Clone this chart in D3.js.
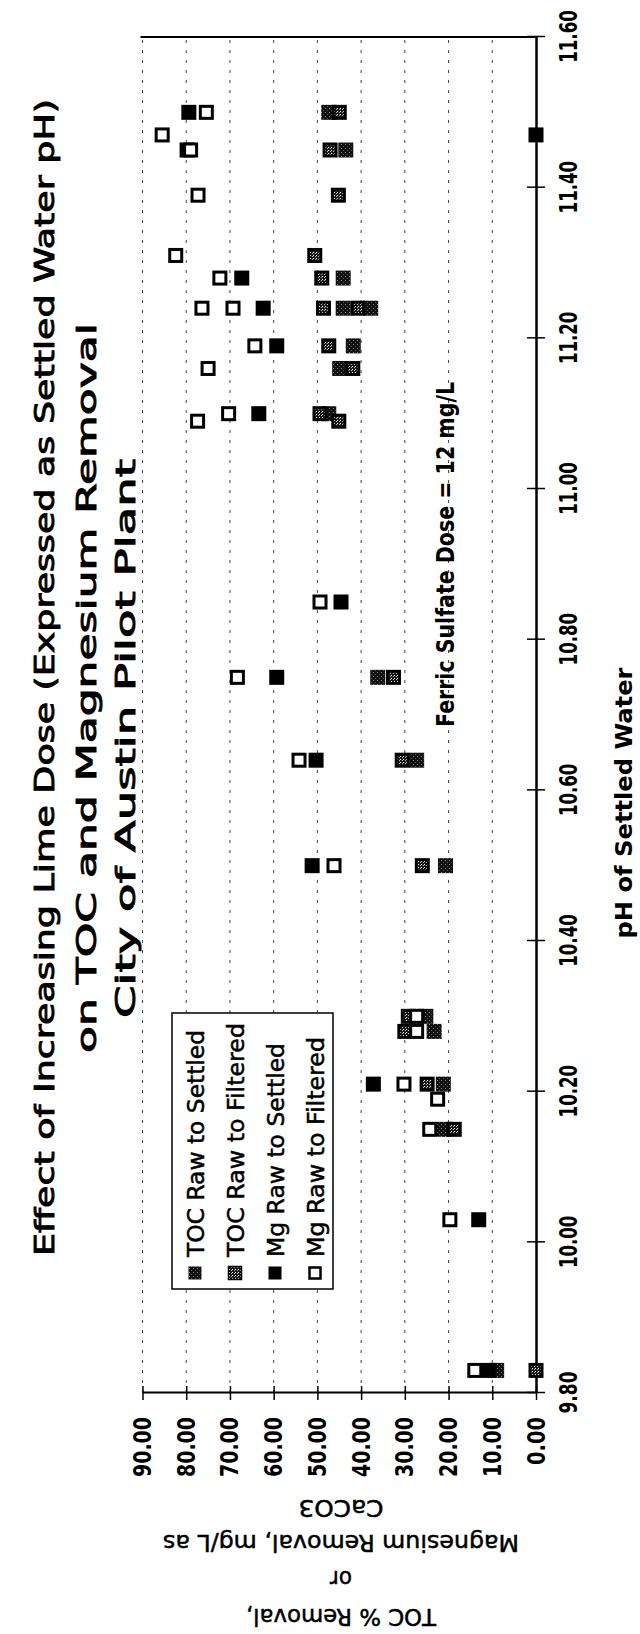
<!DOCTYPE html>
<html>
<head>
<meta charset="utf-8">
<script src="https://cdn.jsdelivr.net/npm/d3@7"></script>
<style>
body { margin: 0; background: #fff; }
text { font-family: "DejaVu Sans", sans-serif; font-weight: bold; fill: #000; }
text.plain { font-weight: normal; stroke: #000; stroke-width: 0.5px; }
</style>
</head>
<body>
<div id="chart-area"></div>
<script>
// DATA
var seriesNames = ["TOC Raw to Settled", "TOC Raw to Filtered", "Mg Raw to Settled", "Mg Raw to Filtered"];

var tocSettledPH = [11.50, 11.45, 11.28, 11.24, 11.24, 11.19, 11.16, 11.10, 10.75, 10.64, 10.50, 10.30, 10.28, 10.21, 10.15, 9.83];
var tocSettled   = [47.4, 43.5, 44.1, 44.1, 37.8, 41.8, 44.9, 47.4, 36.2, 27.3, 20.7, 25.2, 23.3, 21.2, 21.0, 9.0];

var tocFilteredPH = [11.50, 11.45, 11.39, 11.31, 11.28, 11.24, 11.24, 11.19, 11.16, 11.10, 11.09, 10.75, 10.64, 10.50, 10.30, 10.28, 10.21, 10.15, 9.83];
var tocFiltered   = [45.0, 47.1, 45.2, 50.6, 49.0, 48.6, 40.7, 47.4, 41.9, 49.4, 45.1, 32.6, 30.6, 26.0, 29.2, 30.0, 24.9, 18.7, 0.0];

var mgSettledPH = [11.50, 11.47, 11.45, 11.28, 11.24, 11.19, 11.10, 10.85, 10.75, 10.64, 10.50, 10.21, 10.03, 9.83];
var mgSettled   = [79.4, 0.0, 79.8, 67.3, 62.4, 59.3, 63.4, 44.6, 59.3, 50.3, 51.2, 37.2, 13.1, 10.9];

var mgFilteredPH = [11.50, 11.47, 11.45, 11.39, 11.31, 11.28, 11.24, 11.24, 11.19, 11.16, 11.10, 11.09, 10.85, 10.75, 10.64, 10.50, 10.30, 10.28, 10.21, 10.19, 10.15, 10.03, 9.83];
var mgFiltered   = [75.4, 85.5, 79.0, 77.3, 82.4, 72.3, 76.4, 69.3, 64.3, 75.0, 70.3, 77.4, 49.4, 68.3, 54.2, 46.2, 27.3, 27.3, 30.2, 22.5, 24.3, 19.7, 14.0];

var phTicks = [9.8, 10.0, 10.2, 10.4, 10.6, 10.8, 11.0, 11.2, 11.4, 11.6];
var valueTicks = [0, 10, 20, 30, 40, 50, 60, 70, 80, 90];

var titleLines = ["Effect of Increasing Lime Dose (Expressed as Settled Water pH)",
                  "on TOC and Magnesium Removal",
                  "City of Austin Pilot Plant"];
var yTitleLines = ["TOC % Removal,", "or", "Magnesium Removal, mg/L as", "CaCO3"];
var xTitle = "pH of Settled Water";
var note = "Ferric Sulfate Dose = 12 mg/L";

// The whole chart is printed sideways, so draw it normally and turn it.
var W = 1634, H = 640;

var svg = d3.select("#chart-area")
    .append("svg")
    .attr("width", H)
    .attr("height", W);

var defs = svg.append("defs");

var pd = defs.append("pattern").attr("id", "dark")
    .attr("width", 4).attr("height", 4).attr("patternUnits", "userSpaceOnUse");
pd.append("rect").attr("width", 4).attr("height", 4).attr("fill", "#111");
pd.append("rect").attr("x", 1).attr("y", 1).attr("width", 1).attr("height", 1).attr("fill", "#888");
pd.append("rect").attr("x", 3).attr("y", 3).attr("width", 1).attr("height", 1).attr("fill", "#555");

var pl = defs.append("pattern").attr("id", "light")
    .attr("width", 3).attr("height", 3).attr("patternUnits", "userSpaceOnUse");
pl.append("rect").attr("width", 3).attr("height", 3).attr("fill", "#1a1a1a");
pl.append("rect").attr("x", 1).attr("y", 1).attr("width", 1).attr("height", 1).attr("fill", "#fff");
pl.append("rect").attr("x", 0).attr("y", 0).attr("width", 1).attr("height", 1).attr("fill", "#bbb");

var g = svg.append("g")
    .attr("transform", "translate(0," + W + ") rotate(-90)");

// SCALES
var x = d3.scaleLinear().domain([9.8, 11.6]).range([241, 1597]);
var y = d3.scaleLinear().domain([0, 90]).range([536, 142.5]);

// GRID
g.selectAll("line.grid")
    .data(valueTicks.slice(1))
    .enter().append("line")
    .attr("class", "grid")
    .attr("x1", x(9.8)).attr("x2", x(11.6))
    .attr("y1", function (d) { return y(d); })
    .attr("y2", function (d) { return y(d); })
    .attr("stroke", "#444")
    .attr("stroke-width", 1)
    .attr("stroke-dasharray", "3,7");

// frame edge at 11.6
g.append("line")
    .attr("x1", x(11.6)).attr("x2", x(11.6))
    .attr("y1", y(90) - 2).attr("y2", y(0))
    .attr("stroke", "#000").attr("stroke-width", 2);

// X AXIS (pH)
var xAxisGroup = g.append("g")
    .attr("transform", "translate(0," + y(0) + ")")
    .call(d3.axisBottom(x).tickValues(phTicks).tickSizeInner(9).tickSizeOuter(0)
        .tickPadding(14).tickFormat(d3.format(".2f")));
xAxisGroup.select(".domain").attr("stroke-width", 2.5);
xAxisGroup.selectAll(".tick line").attr("y1", -9).attr("stroke-width", 1.5);
xAxisGroup.selectAll(".tick text")
    .attr("font-size", "25px")
    .attr("dy", "0.71em")
    .attr("textLength", function (d) { return d3.format(".2f")(d).length * 10.5; })
    .attr("lengthAdjust", "spacingAndGlyphs");

// Y AXIS (removal)
var yAxisGroup = g.append("g")
    .attr("transform", "translate(" + x(9.8) + ",0)")
    .call(d3.axisLeft(y).tickValues(valueTicks).tickSizeInner(7).tickSizeOuter(0)
        .tickPadding(17).tickFormat(d3.format(".2f")));
yAxisGroup.select(".domain").attr("stroke-width", 2);
yAxisGroup.selectAll(".tick line").attr("x2", 7).attr("x1", -7).attr("stroke-width", 1.5);
yAxisGroup.selectAll(".tick text")
    .attr("font-size", "25px")
    .attr("textLength", function (d) { return d3.format(".2f")(d).length * 12; })
    .attr("lengthAdjust", "spacingAndGlyphs");

// MARKERS
function addSeries(phs, vals, kind) {
    var pts = phs.map(function (p, i) { return { ph: p, v: vals[i] }; });
    var s = 15;
    var sel = g.append("g").selectAll("rect")
        .data(pts).enter().append("rect")
        .attr("x", function (d) { return x(d.ph) - s / 2; })
        .attr("y", function (d) { return y(d.v) - s / 2; })
        .attr("width", s).attr("height", s);
    if (kind === 0) {
        sel.attr("fill", "url(#dark)");
    } else if (kind === 1) {
        sel.attr("x", function (d) { return x(d.ph) - s / 2 + 1.5; })
            .attr("y", function (d) { return y(d.v) - s / 2 + 1.5; })
            .attr("width", s - 3).attr("height", s - 3)
            .attr("fill", "url(#light)").attr("stroke", "#000").attr("stroke-width", 3);
    } else if (kind === 2) {
        sel.attr("fill", "#000");
    } else {
        sel.attr("x", function (d) { return x(d.ph) - s / 2 + 1.5; })
            .attr("y", function (d) { return y(d.v) - s / 2 + 1.5; })
            .attr("width", s - 3).attr("height", s - 3)
            .attr("fill", "#fff").attr("stroke", "#000").attr("stroke-width", 3);
    }
}
addSeries(tocSettledPH, tocSettled, 0);
addSeries(tocFilteredPH, tocFiltered, 1);
addSeries(mgSettledPH, mgSettled, 2);
addSeries(mgFilteredPH, mgFiltered, 3);

// TITLE
var titleStart = [378, 581, 616];
var titleBase = [54, 96, 135];
var titleLen = [1157, 730, 559];
titleLines.forEach(function (t, i) {
    g.append("text")
        .attr("class", "plain")
        .attr("x", titleStart[i]).attr("y", titleBase[i])
        .attr("font-size", "27px")
        .style("stroke-width", "0.9px")
        .attr("textLength", titleLen[i])
        .attr("lengthAdjust", "spacingAndGlyphs")
        .text(t);
});

// Y TITLE
var yTitleBase = [25, 63, 99, 134];
var yTitleLen = [190, 22, 356, 85];
yTitleLines.forEach(function (t, i) {
    g.append("text")
        .attr("class", "plain")
        .attr("transform", "translate(" + yTitleBase[i] + ",341) rotate(-90)")
        .attr("text-anchor", "middle")
        .attr("font-size", "23px")
        .attr("textLength", yTitleLen[i])
        .attr("lengthAdjust", "spacingAndGlyphs")
        .text(t);
});

// X TITLE
g.append("text")
    .attr("x", 831).attr("y", 632)
    .attr("text-anchor", "middle")
    .attr("font-size", "23px")
    .attr("textLength", 271)
    .attr("lengthAdjust", "spacingAndGlyphs")
    .text(xTitle);

// NOTE
g.append("text")
    .attr("x", 907).attr("y", 454)
    .attr("font-size", "25px")
    .attr("textLength", 345)
    .attr("lengthAdjust", "spacingAndGlyphs")
    .text(note);

// LEGEND
var legend = g.append("g");
legend.append("rect")
    .attr("x", 345).attr("y", 172)
    .attr("width", 276).attr("height", 161)
    .attr("fill", "#fff").attr("stroke", "#000").attr("stroke-width", 1.5);

var legendLen = [227, 234, 214, 220];
seriesNames.forEach(function (name, i) {
    var cy = 195 + i * 40;
    var r = legend.append("rect")
        .attr("x", 361 - 6.5).attr("y", cy - 6.5)
        .attr("width", 13).attr("height", 13);
    if (i === 0) r.attr("fill", "url(#dark)");
    if (i === 1) r.attr("fill", "url(#light)").attr("stroke", "#000").attr("stroke-width", 1.5);
    if (i === 2) r.attr("fill", "#000");
    if (i === 3) r.attr("x", 361 - 5.5).attr("y", cy - 5.5).attr("width", 11).attr("height", 11)
        .attr("fill", "#fff").attr("stroke", "#000").attr("stroke-width", 2.5);
    legend.append("text")
        .attr("class", "plain")
        .attr("x", 377).attr("y", cy + 8.5)
        .attr("font-size", "23px")
        .attr("textLength", legendLen[i])
        .attr("lengthAdjust", "spacingAndGlyphs")
        .text(name);
});
</script>
</body>
</html>
